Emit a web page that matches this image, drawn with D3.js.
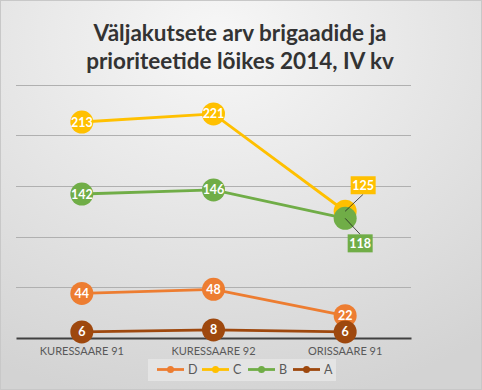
<!DOCTYPE html>
<html><head><meta charset="utf-8">
<script src="https://cdn.jsdelivr.net/npm/d3@7"></script>
<style>html,body{margin:0;padding:0;background:#fff;}svg{display:block;}</style>
</head><body>
<script>
const categories = ["KURESSAARE 91", "KURESSAARE 92", "ORISSAARE 91"];
const seriesNames = ["D", "C", "B", "A"];
const valuesD = [44, 48, 22];
const valuesC = [213, 221, 125];
const valuesB = [142, 146, 118];
const valuesA = [6, 8, 6];
const yTicks = [0, 50, 100, 150, 200, 250];
const titleLines = ["Väljakutsete arv brigaadide ja", "prioriteetide lõikes 2014, IV kv"];

const colors = {D: "#ED7D31", C: "#FFC000", B: "#70AD47", A: "#9E480E"};
const series = [
  {name: "D", values: valuesD},
  {name: "C", values: valuesC},
  {name: "B", values: valuesB},
  {name: "A", values: valuesA}
];

const W = 482, H = 390;
const svg = d3.select("body").append("svg").attr("width", W).attr("height", H);
const defs = svg.append("defs");
const grad = defs.append("radialGradient").attr("id", "bg")
  .attr("cx", "45%").attr("cy", "10%").attr("r", "95%");
grad.append("stop").attr("offset", "0%").attr("stop-color", "#f7f7f7");
grad.append("stop").attr("offset", "100%").attr("stop-color", "#d3d3d3");
svg.append("rect").attr("x", 0.5).attr("y", 0.5).attr("width", W - 1).attr("height", H - 1)
  .attr("fill", "url(#bg)").attr("stroke", "#c8c8c8");

// title
const title = svg.append("text").attr("text-anchor", "middle")
  .attr("font-family", "Lato, 'Open Sans', sans-serif").attr("font-weight", "bold")
  .attr("font-size", 22.5).attr("fill", "#333333");
titleLines.forEach((t, i) => {
  title.append("tspan").attr("x", 240).attr("y", 41 + i * 28).text(t);
});

const x = d3.scaleBand().domain(categories).range([16, 411]);
const y = d3.scaleLinear().domain([0, 250]).range([338, 84.5]);
const cx = c => x(c) + x.bandwidth() / 2;

// gridlines
svg.append("g").selectAll("line").data(yTicks.filter(d => d > 0)).join("line")
  .attr("x1", 16).attr("x2", 411)
  .attr("y1", d => Math.round(y(d)) + 0.5).attr("y2", d => Math.round(y(d)) + 0.5)
  .attr("stroke", "#b0b0b0").attr("stroke-width", 1);

// x axis
const xAxis = svg.append("g").attr("transform", `translate(0,${y(0)})`)
  .call(d3.axisBottom(x).tickSize(0).tickPadding(9));
xAxis.select(".domain").attr("stroke", "#404040").attr("stroke-width", 2.2);
xAxis.selectAll("text").attr("font-family", "Lato, 'Open Sans', sans-serif")
  .attr("font-size", 11).attr("fill", "#595959");

// lines
const line = d3.line().x((d, i) => cx(categories[i])).y(d => y(d));
series.forEach(s => {
  svg.append("path").datum(s.values).attr("d", line)
    .attr("fill", "none").attr("stroke", colors[s.name]).attr("stroke-width", 2.8);
});

// markers + labels
const callout = {C: [2, {dx: 18, dy: -26}], B: [2, {dx: 15, dy: 25}]};
series.forEach(s => {
  const g = svg.append("g");
  s.values.forEach((v, i) => {
    const px = cx(categories[i]), py = y(v);
    g.append("circle").attr("cx", px).attr("cy", py).attr("r", 11.5).attr("fill", colors[s.name]);
  });
});
series.forEach(s => {
  s.values.forEach((v, i) => {
    const px = cx(categories[i]), py = y(v);
    const co = callout[s.name];
    if (co && co[0] === i) {
      const bx = px + co[1].dx, by = py + co[1].dy;
      svg.append("line").attr("x1", px).attr("y1", py)
        .attr("x2", bx).attr("y2", by + (co[1].dy < 0 ? 9 : -9))
        .attr("stroke", "#222").attr("stroke-width", 0.8);
      svg.append("rect").attr("x", bx - 12.5).attr("y", by - 9).attr("width", 25).attr("height", 18)
        .attr("fill", colors[s.name]);
      svg.append("text").attr("x", bx).attr("y", by + 4.5).attr("text-anchor", "middle")
        .attr("font-family", "Lato, 'Open Sans', sans-serif").attr("font-size", 12.5)
        .attr("font-weight", "bold").attr("fill", "#fff").text(v);
    } else {
      svg.append("text").attr("x", px).attr("y", py + 4.5).attr("text-anchor", "middle")
        .attr("font-family", "Lato, 'Open Sans', sans-serif").attr("font-size", 12.5)
        .attr("font-weight", "bold").attr("fill", "#fff").text(v);
    }
  });
});

// legend
const lg = svg.append("g");
lg.append("rect").attr("x", 148).attr("y", 359).attr("width", 188).attr("height", 22)
  .attr("fill", "#e6e6e6").attr("opacity", 0.9);
const legX = [157, 202, 248, 293];
seriesNames.forEach((n, i) => {
  const lx = legX[i], ly = 369.5;
  lg.append("line").attr("x1", lx).attr("x2", lx + 27).attr("y1", ly).attr("y2", ly)
    .attr("stroke", colors[n]).attr("stroke-width", 2.8);
  lg.append("circle").attr("cx", lx + 13.5).attr("cy", ly).attr("r", 3.5).attr("fill", colors[n]);
  lg.append("text").attr("x", lx + 31).attr("y", ly + 4.5)
    .attr("font-family", "Lato, 'Open Sans', sans-serif").attr("font-size", 12.5)
    .attr("fill", "#595959").text(n);
});
</script>
</body></html>
